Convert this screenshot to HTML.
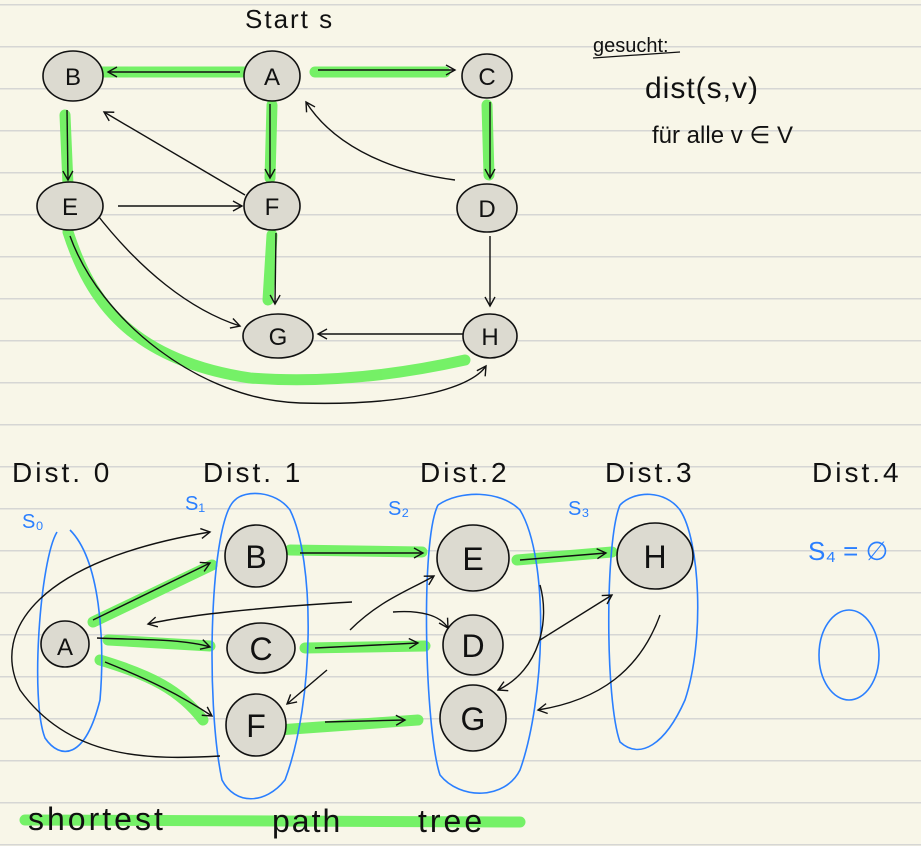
<!DOCTYPE html>
<html><head><meta charset="utf-8"><style>
html,body{margin:0;padding:0;background:#f8f6e8}
svg{display:block}
text{font-family:"Liberation Sans",sans-serif;fill:#111}
</style></head><body>
<svg width="921" height="846" viewBox="0 0 921 846" xmlns="http://www.w3.org/2000/svg">
<defs>
<pattern id="ln" width="921" height="42" patternUnits="userSpaceOnUse" y="4">
<rect width="921" height="42" fill="#f8f6e8"/><rect y="0" width="921" height="1.5" fill="#d6d6d4"/>
</pattern>
<marker id="ar" markerWidth="12" markerHeight="12" refX="10" refY="6" orient="auto" markerUnits="userSpaceOnUse">
<path d="M1,1 L10,6 L1,11" fill="none" stroke="#111" stroke-width="1.4"/>
</marker>
</defs>
<rect width="921" height="846" fill="url(#ln)"/>

<g stroke="#6ef060" stroke-width="11" fill="none" stroke-linecap="round" opacity="0.95">
<path d="M245,72 L100,72"/>
<path d="M315,72 L445,72"/>
<path d="M487,105 L489,175"/>
<path d="M272,105 L270,178"/>
<path d="M65,115 L68,185"/>
<path d="M272,235 L268,300"/>
<path d="M68,232 C90,300 130,360 250,378 C340,385 420,370 465,360"/>
</g>
<g stroke="#111" stroke-width="1.4" fill="none" marker-end="url(#ar)">
<path d="M240,72 L108,72"/>
<path d="M318,70 L455,70"/>
<path d="M490,102 L490,178"/>
<path d="M270,104 L270,178"/>
<path d="M67,110 L68,180"/>
<path d="M118,206 L242,206"/>
<path d="M245,195 L104,112"/>
<path d="M455,180 C380,170 330,140 306,102"/>
<path d="M276,233 L275,304"/>
<path d="M95,212 C140,270 190,310 240,326"/>
<path d="M466,334 L318,334"/>
<path d="M490,236 L490,306"/>
<path d="M70,236 C100,320 200,400 300,403 C400,406 470,390 486,366"/>
</g>
<g fill="#dcdad0" stroke="#111" stroke-width="1.6">
<ellipse cx="73" cy="76" rx="30" ry="25"/>
<ellipse cx="272" cy="76" rx="28" ry="25"/>
<ellipse cx="487" cy="76" rx="25" ry="22"/>
<ellipse cx="70" cy="206" rx="33" ry="24"/>
<ellipse cx="272" cy="206" rx="28" ry="24"/>
<ellipse cx="487" cy="208" rx="30" ry="24"/>
<ellipse cx="278" cy="336" rx="35" ry="22"/>
<ellipse cx="490" cy="336" rx="27" ry="22"/>
</g>
<g font-size="24" text-anchor="middle">
<text x="73" y="85">B</text><text x="272" y="85">A</text><text x="487" y="85">C</text>
<text x="70" y="215">E</text><text x="272" y="215">F</text><text x="487" y="217">D</text>
<text x="278" y="345">G</text><text x="490" y="345">H</text>
</g>
<text x="245" y="28" font-size="26" letter-spacing="2">Start s</text>
<text x="593" y="52" font-size="20">gesucht:</text>
<path d="M593,58 L680,52" stroke="#111" stroke-width="1.2"/>
<text x="645" y="98" font-size="30" letter-spacing="1">dist(s,v)</text>
<text x="652" y="143" font-size="24">für alle v ∈ V</text>

<g font-size="28" letter-spacing="3"><text x="12" y="482">Dist. 0</text><text x="203" y="482">Dist. 1</text>
<text x="420" y="482">Dist.2</text><text x="605" y="482">Dist.3</text><text x="812" y="482">Dist.4</text></g>
<g font-size="20"><text x="22" y="528" style="fill:#2a7fff">S₀</text><text x="185" y="510" style="fill:#2a7fff">S₁</text>
<text x="388" y="515" style="fill:#2a7fff">S₂</text><text x="568" y="515" style="fill:#2a7fff">S₃</text>
<text x="808" y="560" font-size="26" style="fill:#2a7fff">S₄ = ∅</text></g>

<g stroke="#6ef060" stroke-width="11" fill="none" stroke-linecap="round" opacity="0.95">
<path d="M93,622 L212,565"/>
<path d="M108,640 L210,646"/>
<path d="M100,660 C150,675 180,690 203,720"/>
<path d="M290,550 L422,552"/>
<path d="M305,648 L425,646"/>
<path d="M278,730 L418,720"/>
<path d="M517,560 L612,552"/>
<path d="M25,820 L520,822"/>
</g>
<g stroke="#2a7fff" stroke-width="1.6" fill="none">
<path d="M57,532 C40,560 30,700 45,738 C60,760 85,760 100,700 C105,640 100,560 70,530"/>
<path d="M235,500 C210,520 205,700 222,780 C235,805 265,805 285,780 C315,700 315,560 290,510 C275,490 245,490 235,500"/>
<path d="M438,505 C420,540 425,730 440,775 C460,800 505,800 520,770 C545,700 550,560 520,510 C500,490 460,490 438,505"/>
<path d="M620,505 C605,540 605,700 620,742 C640,760 665,745 685,700 C705,640 700,540 680,510 C665,490 635,490 620,505"/>
<ellipse cx="849" cy="655" rx="30" ry="45"/>
</g>
<g stroke="#111" stroke-width="1.4" fill="none" marker-end="url(#ar)">
<path d="M93,620 L210,563"/>
<path d="M97,638 C130,640 180,638 210,647"/>
<path d="M105,662 C150,680 180,695 212,716"/>
<path d="M220,756 C150,760 70,760 20,690 C-10,630 40,560 210,532"/>
<path d="M300,553 L423,553"/>
<path d="M352,602 C300,605 200,612 148,624"/>
<path d="M315,648 L418,643"/>
<path d="M327,670 L287,704"/>
<path d="M325,722 L405,720"/>
<path d="M350,630 C380,600 410,590 434,576"/>
<path d="M393,612 C420,610 440,615 448,628"/>
<path d="M520,560 L606,553"/>
<path d="M540,585 C550,620 540,670 498,690"/>
<path d="M540,640 L612,595"/>
<path d="M660,615 C640,670 600,700 538,710"/>
</g>
<g fill="#dcdad0" stroke="#111" stroke-width="1.6">
<ellipse cx="65" cy="644" rx="24" ry="23"/>
<ellipse cx="256" cy="556" rx="31" ry="31"/>
<ellipse cx="261" cy="648" rx="34" ry="25"/>
<ellipse cx="256" cy="725" rx="30" ry="31"/>
<ellipse cx="473" cy="558" rx="36" ry="33"/>
<ellipse cx="473" cy="645" rx="30" ry="30"/>
<ellipse cx="473" cy="718" rx="33" ry="33"/>
<ellipse cx="655" cy="556" rx="38" ry="33"/>
</g>
<g font-size="32" text-anchor="middle">
<text x="65" y="655" font-size="24">A</text>
<text x="256" y="568">B</text><text x="261" y="660">C</text><text x="256" y="737">F</text>
<text x="473" y="570">E</text><text x="473" y="657">D</text><text x="473" y="730">G</text><text x="655" y="568">H</text>
</g>
<text x="28" y="830" font-size="32" letter-spacing="3">shortest</text>
<text x="272" y="832" font-size="32" letter-spacing="2">path</text>
<text x="418" y="832" font-size="32" letter-spacing="3">tree</text>
</svg>
</body></html>
